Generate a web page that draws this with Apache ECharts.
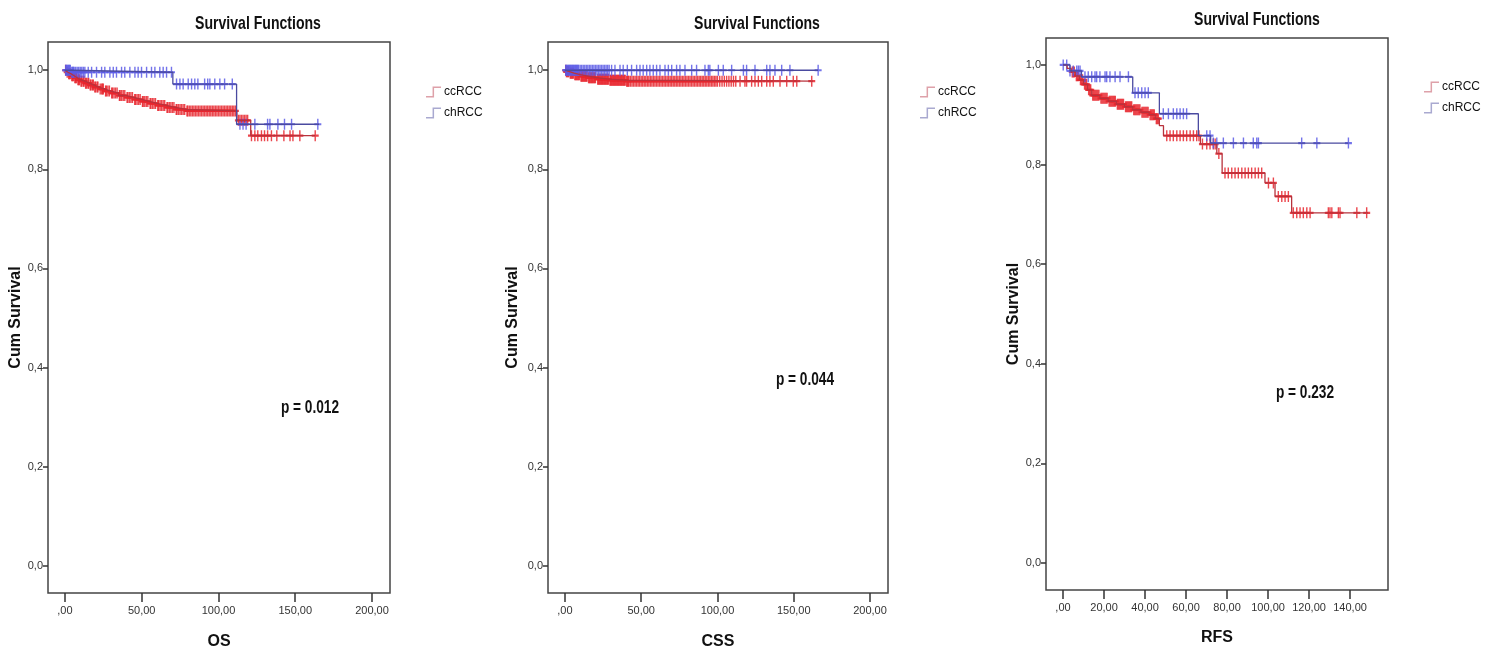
<!DOCTYPE html>
<html><head><meta charset="utf-8">
<script src="https://cdn.jsdelivr.net/npm/echarts@6/dist/echarts.min.js"></script>
<style>html,body{margin:0;padding:0;background:#fff}#c{width:1490px;height:655px}</style>
</head><body><div id="c"></div>
<script>
// ---------- DATA ----------
const groups = ['ccRCC', 'chRCC'];
const panelTitles = ['Survival Functions', 'Survival Functions', 'Survival Functions'];
const xNames = ['OS', 'CSS', 'RFS'];
const pTexts = ['p = 0.012', 'p = 0.044', 'p = 0.232'];
const xTicksOS = [0, 50, 100, 150, 200];
const xTicksCSS = [0, 50, 100, 150, 200];
const xTicksRFS = [0, 20, 40, 60, 80, 100, 120, 140];
const yTicks = [0, 0.2, 0.4, 0.6, 0.8, 1.0];

// Kaplan-Meier steps: [time, survival from that time on]
const osCcSteps = [[0,1],[1,0.996],[2,0.993],[4,0.989],[6,0.985],[8,0.981],[10,0.978],[13,0.974],[16,0.970],[19,0.966],[22,0.962],[26,0.958],[30,0.954],[35,0.949],[40,0.945],[45,0.941],[50,0.937],[55,0.933],[60,0.929],[66,0.925],[72,0.921],[79,0.918],[112,0.899],[121,0.868],[163,0.868]];
const osChSteps = [[0,1],[4,0.996],[70.3,0.972],[111.8,0.891],[165.5,0.891]];
const cssCcSteps = [[0,1],[1,0.997],[3,0.994],[6,0.991],[10,0.988],[15,0.985],[21,0.982],[29,0.980],[40,0.978],[162.6,0.978]];
const cssChSteps = [[0,1],[166,1]];
const rfsCcSteps = [[0,1],[2,0.993],[4,0.986],[6,0.978],[8,0.970],[10,0.961],[12,0.950],[14,0.939],[18,0.933],[22,0.927],[26,0.921],[30,0.916],[34,0.910],[38,0.905],[42,0.900],[45,0.892],[47,0.878],[49,0.858],[67,0.841],[75,0.822],[77.6,0.783],[98.5,0.763],[103.4,0.736],[111.5,0.703],[148.8,0.703]];
const rfsChSteps = [[0,1],[3.4,0.988],[9,0.976],[34,0.944],[47,0.902],[66,0.858],[72,0.843],[139.2,0.843]];

// censored times
const osCcCens = [0.5,1.5,2.5,3,3.5,4.5,5,5.5,6.5,7,7.5,8.5,9,9.5,10.5,11,12,12.5,13.5,14,15,15.5,16.5,17,18,18.5,19.5,20,21,21.5,23,24,24.5,25,26.5,27,28,29,30.5,31,32,33,34,35.5,36,37,38,39,40.5,41,42,43,44,45.5,46,47,48,49,50.5,51,52,53,54,55.5,56,57,58,59,60.5,61,62,63,64,65,66.5,67,68,69,70,71,72.5,73,74,75,76,77,78,79.5,80,81,82,83,84,85,86,87,88,89,90,91,92,93,94,95,96,97,98,99,100,101,102,103,104,105,106,107,108,109,110,111,113,114,115,116,117,118,119,121.5,123.7,125.6,128,130,132,134.5,138,142.6,146.6,148.5,153,163];
const osChCens = [0.5,1,1.5,2,2.5,3,3.5,4.5,5,5.5,6,7,8,9,10,11,12,13,15.2,17.4,20.6,23.9,26,29.3,31.5,33.6,36.9,39,42.3,45.6,47.7,49.9,53.2,56.4,58.6,61.8,64,66.2,69.4,72.7,74.9,77,80.3,82.5,84.6,86.6,91,93,94.4,97.6,100.9,104,109,114,116,118,123.7,132,133.5,138.7,143,147.6,164.7];
const cssCcCens = [0.5,1,1.5,2,2.5,3.5,4,4.5,5,5.5,6.5,7,7.5,8,8.5,9,9.5,10.5,11,11.5,12,12.5,13,13.5,14,14.5,15.5,16,16.5,17,17.5,18,18.5,19,19.5,20,21.5,22,22.5,23,23.5,24,24.5,25,25.5,26,26.5,27,27.5,28,28.5,29.5,30,30.5,31,31.5,32,32.5,33,33.5,34,34.5,35,35.5,36,36.5,37,37.5,38,38.5,39,39.5,40.5,41,41.5,42,43,44,45,46,47,48,49,50,51,52,53,54,55,56,57,58,59,60,61,62,63,64,65,66,67,68,69,70,71,72,73,74,75,76,77,78,79,80,81,82,83,84,85,86,87,88,89,90,91,92,93,94,95,96,97,98,99,100,101.5,103,104.5,106,107.5,109,110.5,112,114.8,118,119.1,122.4,124.6,126.8,129,132.3,134.4,136.6,141,145.4,149.7,152,161.8];
const cssChCens = [0.5,1,1.5,2,2.5,3,3.5,4,4.5,5,5.5,6,6.5,7,7.5,8,8.5,9,10,11,12,13,14,15,16,17,18,19,20,21,22,23,24,25,26,27,28,29,30.6,32.8,36.1,38.2,40.9,43.7,47,49.2,51.3,53.6,55.7,57.9,60.1,62.3,65.6,67.8,70,73.2,75.4,78.7,83.1,86.3,91.8,94,95,100.6,103.8,109.3,117,119.1,124.6,132.3,134.4,137.7,142.1,147.5,166];
const rfsCcCens = [4.5,5,5.5,6.5,7,7.5,8.5,9,9.5,10.5,11,11.5,12.5,13,13.5,14.5,15,15.5,16,16.5,17,17.5,18.5,19,19.5,20,20.5,21,21.5,22.5,23,23.5,24,24.5,25,25.5,26.5,27,27.5,28,28.5,29,29.5,30.5,31,31.5,32,32.5,33,33.5,34.5,35,35.5,36,36.5,37,37.5,38.5,39,39.5,40,40.5,41,41.5,42.5,43,43.5,44,44.5,45.5,46,46.5,50.6,52.2,53.8,55.5,57.1,58.7,60.3,62,63.6,65.2,66.3,68,70.1,71.7,73.3,74.2,76,79,80.6,82.3,83.9,85.5,87.2,88.8,90.4,92,93.7,95.3,96.9,100.2,102.6,105,106.7,108.3,109.9,112.3,114,115.6,117.2,118.9,120.5,129.4,130.2,131.1,134.3,135.1,143.3,148.1];
const rfsChCens = [0.1,1.8,3.4,5,6.7,7.5,8.3,10.7,12.3,14,15.6,16.4,18,20.5,21.3,22.9,25.4,27.8,31.9,35.1,36.7,38.4,40,41.6,48.9,51.4,53.8,55.5,57.1,58.7,60.3,70.1,71.7,73.3,75,78.2,83.1,88,92.8,94.5,95.3,116.4,123.8,139.2];

// ---------- STYLE / LAYOUT ----------
const FONT = "'Liberation Sans','Arial',sans-serif";
const lineCol = {ccRCC: '#b8323c', chRCC: '#4a4aa0'};
const markCol = {ccRCC: '#e8262e', chRCC: '#5a5ae6'};
const legCol = {ccRCC: '#d8909a', chRCC: '#9a9ac8'};
const crossPath = 'path://M4,0L6,0L6,4L10,4L10,6L6,6L6,10L4,10L4,6L0,6L0,4L4,4Z';
const stepIcon = 'path://M0,10L7,10L7,0L16,0L16,1.6L8.6,1.6L8.6,11.6L0,11.6Z';

const panels = [
  {grid:{left:48, top:42, width:342, height:552}, xmin:-11, xmax:211.7, xticks:xTicksOS, ymin:-0.055, ymax:1.057,
   steps:{ccRCC:osCcSteps, chRCC:osChSteps}, cens:{ccRCC:osCcCens, chRCC:osChCens},
   titleX:258, titleY:24, legend:{left:421, top:81}, p:{x:310, y:408}, yNameGap:22, xNameGap:41},
  {grid:{left:548, top:42, width:340, height:552}, xmin:-11.1, xmax:211.8, xticks:xTicksCSS, ymin:-0.055, ymax:1.057,
   steps:{ccRCC:cssCcSteps, chRCC:cssChSteps}, cens:{ccRCC:cssCcCens, chRCC:cssChCens},
   titleX:757, titleY:24, legend:{left:915, top:81}, p:{x:805, y:380}, yNameGap:27, xNameGap:41},
  {grid:{left:1046, top:38, width:342, height:552}, xmin:-8.3, xmax:158.5, xticks:xTicksRFS, ymin:-0.054, ymax:1.054,
   steps:{ccRCC:rfsCcSteps, chRCC:rfsChSteps}, cens:{ccRCC:rfsCcCens, chRCC:rfsChCens},
   titleX:1257, titleY:20, legend:{left:1419, top:76}, p:{x:1305, y:393}, yNameGap:24, xNameGap:40}
];

function survAt(steps, t) {
  let s = steps[0][1];
  for (const [ti, si] of steps) { if (ti <= t) s = si; else break; }
  return s;
}
const xFmt = v => (Math.abs(v) < 1e-9 ? ',00' : v.toFixed(2).replace('.', ','));
const yFmt = v => v.toFixed(1).replace('.', ',');

const option = {
  animation: false,
  backgroundColor: '#fff',
  grid: [], xAxis: [], yAxis: [], series: [], legend: [], graphic: []
};

panels.forEach((p, i) => {
  option.graphic.push({type: 'text', x: p.titleX, y: p.titleY, scaleX: 0.74,
    style: {text: panelTitles[i], font: "bold 19px " + FONT, fill: '#111', textAlign: 'center', textVerticalAlign: 'middle'}});
  option.grid.push(Object.assign({show: true, borderColor: '#444', borderWidth: 1.5, backgroundColor: '#fff'}, p.grid));
  option.xAxis.push({type: 'value', gridIndex: i, min: p.xmin, max: p.xmax, position: 'bottom',
    name: xNames[i], nameLocation: 'middle', nameGap: p.xNameGap,
    nameTextStyle: {fontFamily: FONT, fontSize: 16, fontWeight: 'bold', color: '#111'},
    axisLine: {show: false, onZero: false}, splitLine: {show: false},
    axisTick: {show: true, inside: false, length: 9, customValues: p.xticks, lineStyle: {color: '#333', width: 1.5}},
    axisLabel: {customValues: p.xticks, formatter: xFmt, margin: 12, fontFamily: FONT, fontSize: 11, color: '#333'}});
  option.yAxis.push({type: 'value', gridIndex: i, min: p.ymin, max: p.ymax,
    name: 'Cum Survival', nameLocation: 'middle', nameGap: p.yNameGap, nameRotate: 90,
    nameTextStyle: {fontFamily: FONT, fontSize: 16, fontWeight: 'bold', color: '#111'},
    axisLine: {show: false, onZero: false}, splitLine: {show: false},
    axisTick: {show: true, length: 5, customValues: yTicks, lineStyle: {color: '#333', width: 1.5}},
    axisLabel: {customValues: yTicks, formatter: yFmt, margin: 5, fontFamily: FONT, fontSize: 11, color: '#333'}});
  groups.forEach(g => {
    const steps = p.steps[g];
    option.series.push({name: g, type: 'scatter', xAxisIndex: i, yAxisIndex: i,
      symbol: crossPath, symbolSize: [7, 11], z: 2,
      itemStyle: {color: markCol[g], opacity: 0.85},
      data: p.cens[g].map(t => [t, survAt(steps, t)])});
  });
  groups.forEach(g => {
    option.series.push({name: g, type: 'line', xAxisIndex: i, yAxisIndex: i, step: 'end',
      showSymbol: false, symbol: 'none', z: 3,
      lineStyle: {color: lineCol[g], width: 1.3}, itemStyle: {color: lineCol[g]},
      data: p.steps[g]});
  });
  option.legend.push({left: p.legend.left, top: p.legend.top, orient: 'vertical', itemGap: 9,
    itemWidth: 15, itemHeight: 11, selectedMode: false,
    textStyle: {fontFamily: FONT, fontSize: 12, color: '#111', padding: [0, 0, 0, -2]},
    data: groups.map(g => ({name: g, icon: stepIcon, itemStyle: {color: legCol[g]}}))});
  option.graphic.push({type: 'text', x: p.p.x, y: p.p.y, scaleX: 0.76,
    style: {text: pTexts[i], font: "bold 18px " + FONT, fill: '#111', textAlign: 'center', textVerticalAlign: 'middle'}});
});

const chart = echarts.init(document.getElementById('c'), null, {renderer: 'canvas'});
chart.setOption(option);
</script>
</body></html>
